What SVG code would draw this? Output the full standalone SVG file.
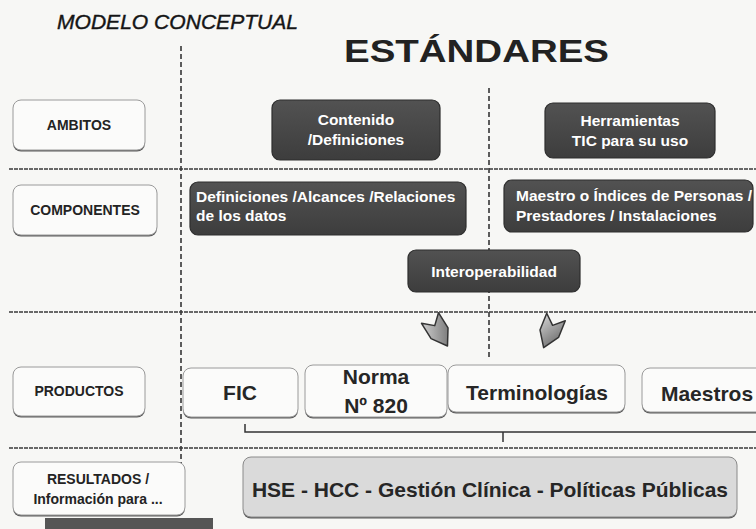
<svg xmlns="http://www.w3.org/2000/svg" width="756" height="529" viewBox="0 0 756 529">
  <defs>
    <linearGradient id="arrowGrad" x1="0" y1="0" x2="1" y2="1">
      <stop offset="0" stop-color="#cfcfcf"/>
      <stop offset="1" stop-color="#666"/>
    </linearGradient>
    <linearGradient id="darkGrad" x1="0" y1="0" x2="0" y2="1">
      <stop offset="0" stop-color="#525252"/>
      <stop offset="1" stop-color="#3d3d3d"/>
    </linearGradient>
  </defs>
  <style>
    .bg { fill: #f7f7f5; }
    .lightshadow { fill: #5a5a5a; }
    .light { fill: #fbfbfa; stroke: #9a9a9a; stroke-width: 1; }
    .gray { fill: #dadada; stroke: #8a8a8a; stroke-width: 1; }
    .dark { fill: url(#darkGrad); stroke: #2e2e2e; stroke-width: 1.2; }
    .lbl { font-family: "Liberation Sans", Arial, sans-serif; font-weight: bold; font-size: 14px; fill: #232323; text-anchor: middle; }
    .dtxt { font-family: "Liberation Sans", Arial, sans-serif; font-weight: bold; font-size: 15.5px; fill: #ffffff; }
    .ptxt { font-family: "Liberation Sans", Arial, sans-serif; font-weight: bold; font-size: 21px; fill: #262626; text-anchor: middle; }
    .vdash { stroke: #2a2a2a; stroke-width: 1.5; stroke-dasharray: 5 3; fill: none; }
    .hdash { stroke: #3a3a3a; stroke-width: 1.3; stroke-dasharray: 4 1; fill: none; }
    .bracket { stroke: #333; stroke-width: 1.5; fill: none; }
    .arrow { fill: url(#arrowGrad); stroke: #333; stroke-width: 1.5; stroke-linejoin: round; }
  </style>

  <rect class="bg" x="0" y="0" width="756" height="529"/>

  <!-- titles -->
  <g id="title-modelo">
    <text x="57" y="29" font-family="Liberation Sans, Arial, sans-serif" font-style="italic" font-size="21" fill="#151515" stroke="#151515" stroke-width="0.4" textLength="241" lengthAdjust="spacingAndGlyphs">MODELO CONCEPTUAL</text>
  </g>
  <g id="title-estandares">
    <text x="344" y="62" font-family="Liberation Sans, Arial, sans-serif" font-weight="bold" font-size="31" fill="#222" textLength="265" lengthAdjust="spacingAndGlyphs">ESTÁNDARES</text>
  </g>

  <!-- connectors / guide lines -->
  <g id="connectors">
    <line class="vdash" x1="181" y1="46" x2="181" y2="520"/>
    <line class="vdash" x1="489" y1="88" x2="489" y2="357"/>
    <line class="hdash" x1="9" y1="169" x2="756" y2="169"/>
    <line class="hdash" x1="9" y1="312" x2="756" y2="312"/>
    <line class="hdash" x1="9" y1="448" x2="756" y2="448"/>
    <path class="bracket" d="M245 424 V432 H756 M503 432 V442"/>
    <polygon class="arrow" points="-10,0 0,9 10,0 10,18 0,33 -10,18" transform="translate(430 318) rotate(-32)"/>
    <polygon class="arrow" points="-10,0 0,9 10,0 10,18 0,33 -10,18" transform="translate(556 317) rotate(22)"/>
  </g>

  <!-- left column labels -->
  <g id="ambitos">
    <rect class="lightshadow" x="13" y="101.5" width="132" height="50" rx="8"/>
    <rect class="light" x="13" y="100" width="132" height="50" rx="8"/>
    <text class="lbl" x="79" y="130">AMBITOS</text>
  </g>
  <g id="componentes">
    <rect class="lightshadow" x="13" y="186.5" width="144" height="50" rx="8"/>
    <rect class="light" x="13" y="185" width="144" height="50" rx="8"/>
    <text class="lbl" x="85" y="215">COMPONENTES</text>
  </g>
  <g id="productos">
    <rect class="lightshadow" x="13" y="368.5" width="132" height="49" rx="8"/>
    <rect class="light" x="13" y="367" width="132" height="49" rx="8"/>
    <text class="lbl" x="79" y="396">PRODUCTOS</text>
  </g>
  <g id="resultados">
    <rect class="lightshadow" x="13" y="463.5" width="172" height="53" rx="8"/>
    <rect class="light" x="13" y="462" width="172" height="53" rx="8"/>
    <text class="lbl" x="98" y="484">RESULTADOS /</text>
    <text class="lbl" x="98" y="504">Información para ...</text>
  </g>
  <g id="dark-strip">
    <rect x="45" y="518" width="168" height="11" fill="#555"/>
  </g>

  <!-- ambitos row -->
  <g id="contenido">
    <rect class="dark" x="272" y="100" width="168" height="60" rx="8"/>
    <text class="dtxt" x="356" y="125" text-anchor="middle">Contenido</text>
    <text class="dtxt" x="356" y="145" text-anchor="middle">/Definiciones</text>
  </g>
  <g id="herramientas">
    <rect class="dark" x="545" y="103" width="170" height="55" rx="8"/>
    <text class="dtxt" x="630" y="126" text-anchor="middle">Herramientas</text>
    <text class="dtxt" x="630" y="146" text-anchor="middle">TIC para su uso</text>
  </g>

  <!-- componentes row -->
  <g id="definiciones">
    <rect class="dark" x="190" y="182" width="276" height="53" rx="8"/>
    <text class="dtxt" x="196" y="202">Definiciones /Alcances /Relaciones</text>
    <text class="dtxt" x="196" y="221">de los datos</text>
  </g>
  <g id="maestro-indices">
    <rect class="dark" x="504" y="180" width="249" height="52" rx="8"/>
    <text class="dtxt" x="516" y="201" font-size="15">Maestro o Índices de Personas /</text>
    <text class="dtxt" x="516" y="221" font-size="15">Prestadores / Instalaciones</text>
  </g>
  <g id="interoperabilidad">
    <rect class="dark" x="408" y="250" width="172" height="42" rx="8"/>
    <text class="dtxt" x="494" y="277" text-anchor="middle">Interoperabilidad</text>
  </g>

  <!-- productos row -->
  <g id="fic">
    <rect class="lightshadow" x="183" y="369.5" width="115" height="49" rx="8"/>
    <rect class="light" x="183" y="368" width="115" height="49" rx="8"/>
    <text class="ptxt" x="240" y="400" font-size="20">FIC</text>
  </g>
  <g id="norma">
    <rect class="lightshadow" x="305" y="366.5" width="142" height="52" rx="8"/>
    <rect class="light" x="305" y="365" width="142" height="52" rx="8"/>
    <text class="ptxt" x="376" y="384">Norma</text>
    <text class="ptxt" x="376" y="413">Nº 820</text>
  </g>
  <g id="terminologias">
    <rect class="lightshadow" x="448" y="366.5" width="177" height="47" rx="8"/>
    <rect class="light" x="448" y="365" width="177" height="47" rx="8"/>
    <text class="ptxt" x="537" y="400">Terminologías</text>
  </g>
  <g id="maestros">
    <rect class="lightshadow" x="642" y="369.5" width="122" height="44" rx="8"/>
    <rect class="light" x="642" y="368" width="122" height="44" rx="8"/>
    <text class="ptxt" x="707" y="401">Maestros</text>
  </g>

  <!-- resultados row -->
  <g id="hse">
    <rect class="lightshadow" x="243" y="458.5" width="494" height="60" rx="8"/>
    <rect class="gray" x="243" y="457" width="494" height="60" rx="8"/>
    <text class="ptxt" x="490" y="497">HSE - HCC - Gestión Clínica - Políticas Públicas</text>
  </g>
</svg>
